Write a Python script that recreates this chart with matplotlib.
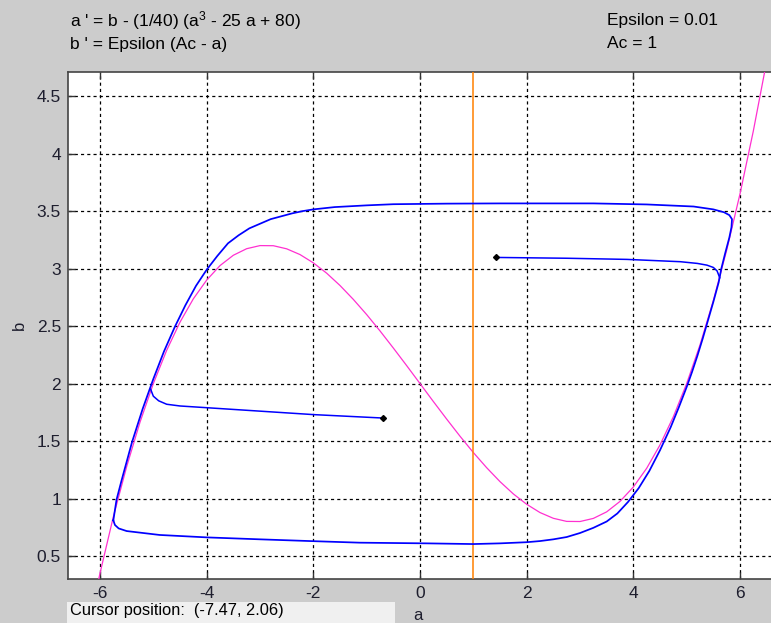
import matplotlib
matplotlib.use("Agg")
import matplotlib.pyplot as plt
from matplotlib.patches import Rectangle

plt.rcParams['font.family'] = ['Liberation Sans', 'DejaVu Sans']
plt.rcParams['mathtext.fontset'] = 'custom'
plt.rcParams['mathtext.rm'] = 'Liberation Sans'
plt.rcParams['mathtext.it'] = 'Liberation Sans'

# a-nullcline (magenta), values
null_a = [-6.1, -6.0, -5.75, -5.5, -5.25, -5.0, -4.75, -4.5, -4.25, -4.0, -3.75, -3.5,
          -3.25, -3.0, -2.75, -2.5, -2.25, -2.0, -1.75, -1.5, -1.25, -1.0, -0.75, -0.5,
          -0.25, 0.0, 0.25, 0.5, 0.75, 1.0, 1.25, 1.5, 1.75, 2.0, 2.25, 2.5, 2.75,
          3.0, 3.25, 3.5, 3.75, 4.0, 4.25, 4.5, 4.75, 5.0, 5.25, 5.5, 5.75, 6.0,
          6.25, 6.5]
null_b = [0.138, 0.35, 0.841, 1.278, 1.664, 2.0, 2.289, 2.534, 2.737, 2.9, 3.026, 3.116,
          3.173, 3.2, 3.199, 3.172, 3.122, 3.05, 2.96, 2.853, 2.732, 2.6, 2.458, 2.309,
          2.156, 2.0, 1.844, 1.691, 1.542, 1.4, 1.268, 1.147, 1.040, 0.95, 0.878, 0.828, 0.801,
          0.8, 0.827, 0.884, 0.975, 1.1, 1.263, 1.466, 1.711, 2.0, 2.336, 2.722, 3.159, 3.65,
          4.197, 4.803]

# b-nullcline (orange) at a = Ac
ac_value = 1.0

# limit cycle trajectory (blue)
cycle_a = [-5.75, -5.72, -5.69, -5.6, -5.4, -5.2, -5.0, -4.8, -4.6, -4.4, -4.2, -4.0,
           -3.8, -3.6, -3.4, -3.2, -3.0, -2.8, -2.6, -2.4, -2.2, -2.0, -1.6, -1.0,
           -0.5, 0.5, 1.5, 3.25, 4.25, 5.13, 5.5, 5.7, 5.8, 5.85, 5.84, 5.8, 5.72,
           5.65, 5.6, 5.5, 5.4, 5.3, 5.2, 5.1, 5.0, 4.85, 4.7, 4.5, 4.3, 4.1, 3.9,
           3.7, 3.5, 3.25, 3.0, 2.75, 2.5, 2.25, 2.0, 1.5, 1.0, 0.125, -1.13, -2.06,
           -3.0, -4.0, -4.88, -5.5, -5.65, -5.72, -5.75]
cycle_b = [0.81, 0.90, 0.99, 1.15, 1.49, 1.78, 2.04, 2.28, 2.49, 2.68, 2.85, 2.99,
           3.11, 3.22, 3.29, 3.35, 3.39, 3.43, 3.455, 3.48, 3.50, 3.515, 3.535, 3.55,
           3.56, 3.565, 3.567, 3.567, 3.558, 3.54, 3.515, 3.49, 3.465, 3.43, 3.36, 3.27, 3.13,
           3.0, 2.88, 2.71, 2.55, 2.39, 2.24, 2.10, 1.97, 1.79, 1.62, 1.42, 1.24, 1.09, 0.97,
           0.87, 0.80, 0.745, 0.70, 0.665, 0.645, 0.63, 0.62, 0.61, 0.604, 0.61, 0.616, 0.63,
           0.645, 0.662, 0.683, 0.717, 0.74, 0.77, 0.81]

# trajectory from the left dot
traj1_a = [-0.69, -2.0, -3.0, -4.0, -4.5, -4.75, -4.9, -5.0, -5.05]
traj1_b = [1.70, 1.73, 1.76, 1.79, 1.805, 1.82, 1.85, 1.89, 1.95]

# trajectory from the right dot
traj2_a = [1.43, 2.75, 3.88, 4.88, 5.2, 5.38, 5.5, 5.57, 5.62]
traj2_b = [3.097, 3.09, 3.08, 3.06, 3.045, 3.03, 3.01, 2.98, 2.92]

start_a = [-0.69, 1.43]
start_b = [1.70, 3.097]

xticks = [-6, -4, -2, 0, 2, 4, 6]
yticks = [0.5, 1, 1.5, 2, 2.5, 3, 3.5, 4, 4.5]
ytick_labels = ['0.5', '1', '1.5', '2', '2.5', '3', '3.5', '4', '4.5']

W, H = 771, 623
fig = plt.figure(figsize=(W / 100, H / 100), dpi=100, facecolor='#cccccc')
ax = fig.add_axes([68 / W, 1 - 579 / H, 704 / W, 507 / H])
ax.set_facecolor('white')

ax.plot(null_a, null_b, color='#ff30d0', lw=0.9, zorder=3)
ax.axvline(ac_value, color='#ff8000', lw=1.1, zorder=3)
ax.plot(cycle_a, cycle_b, color='#0000ff', lw=1.25, zorder=4)
ax.plot(traj1_a, traj1_b, color='#0000ff', lw=1.1, zorder=4)
ax.plot(traj2_a, traj2_b, color='#0000ff', lw=1.1, zorder=4)
ax.plot(start_a, start_b, 'D', color='black', ms=3, zorder=5)

ax.set_xlim(-6.6, 6.6)
ax.set_ylim(0.3, 4.71)
ax.set_xticks(xticks)
ax.set_xticklabels([str(t) for t in xticks])
ax.set_yticks(yticks)
ax.set_yticklabels(ytick_labels)
ax.tick_params(direction='in', length=5, width=1, top=True, right=False,
               labelsize=12.5, colors='#333333', labelcolor='#1e1e2e', pad=5)
ax.grid(True, color='black', linestyle=(0, (2.5, 2.5)), linewidth=0.9)
for side in ['left', 'bottom', 'top']:
    ax.spines[side].set_color('#444444')
    ax.spines[side].set_linewidth(1.2)
ax.spines['right'].set_visible(False)

ax.set_ylabel('b', fontsize=12, color='#1e1e2e', labelpad=7)
# x label sits just under the tick labels, partly cut by the window edge
fig.text(418 / W, 1 - 615 / H, 'a', fontsize=12, color='#1e1e2e',
         ha='center', va='center')

# equations and parameters above the plot
fig.text(70 / W, 1 - 21 / H, "a ' = b - (1/40) (a$^3$ - 25 a + 80)", fontsize=12.5,
         va='center', ha='left', color='black')
fig.text(70 / W, 1 - 44 / H, "b ' = Epsilon (Ac - a)", fontsize=12.5,
         va='center', ha='left', color='black')
fig.text(607 / W, 1 - 20 / H, "Epsilon = 0.01", fontsize=12.5,
         va='center', ha='left', color='black')
fig.text(607 / W, 1 - 44 / H, "Ac = 1", fontsize=12.5,
         va='center', ha='left', color='black')

# cursor position box
fig.patches.append(Rectangle((67 / W, 0), (395 - 67) / W, 21 / H,
                             transform=fig.transFigure, facecolor='#f0f0f0',
                             edgecolor='none', zorder=0))
fig.text(70 / W, 1 - 610.5 / H, "Cursor position:  (-7.47, 2.06)", fontsize=11.8,
         va='center', ha='left', color='black')

fig.savefig('out.png', dpi=100, facecolor=fig.get_facecolor())
